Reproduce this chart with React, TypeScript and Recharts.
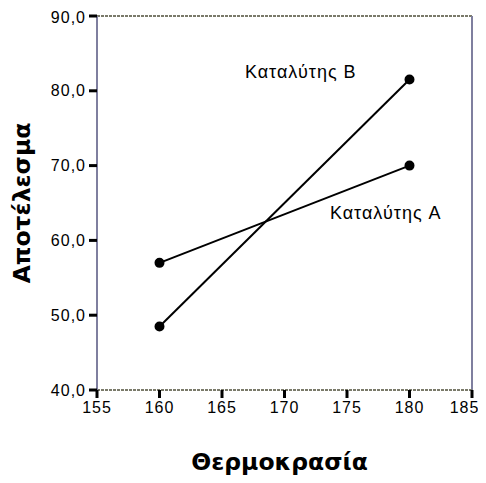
import React from "react";
import { LineChart, Line, XAxis, YAxis, ReferenceLine, ReferenceDot, Label } from "recharts";

const temperatures = [160, 180];
const catalystA = [57.0, 70.0];
const catalystB = [48.5, 81.5];
const xTicks = [155, 160, 165, 170, 175, 180, 185];
const yTicks = [40, 50, 60, 70, 80, 90];
const seriesNames = ["Καταλύτης A", "Καταλύτης B"];
const labelPositions = [
  { x: 178.1, y: 63.7 },
  { x: 171.3, y: 82.5 },
];

const data = temperatures.map((t, i) => ({ t, a: catalystA[i], b: catalystB[i] }));

const FONT = "'Liberation Sans', Arial, sans-serif";
const tickStyle = { fontSize: 16, fill: "#000", fontFamily: FONT, letterSpacing: 1 };
const titleStyle = { fontSize: 23.5, fontWeight: "bold", fill: "#000", fontFamily: "'DejaVu Sans', sans-serif" };

export default function App() {
  return (
    <div style={{ width: 470, height: 467 }}>
      <LineChart width={470} height={467} data={data} margin={{ top: 8, right: 6, left: 0, bottom: 0 }}>
        <XAxis
          dataKey="t"
          type="number"
          domain={[155, 185]}
          ticks={xTicks}
          height={85}
          stroke="#7a7a6a"
          axisLine={{ stroke: "#7a7a6a", strokeWidth: 2, strokeDasharray: "3 1" }}
          tickLine={{ stroke: "#000", strokeWidth: 3 }}
          tickSize={8}
          tickMargin={4}
          tick={tickStyle}
        >
          <Label value="Θερμοκρασία" position="insideBottom" offset={5} dx={-5} style={titleStyle} />
        </XAxis>
        <YAxis
          type="number"
          domain={[40, 90]}
          ticks={yTicks}
          width={89}
          axisLine={{ stroke: "#7f7f9f", strokeWidth: 2 }}
          tickLine={{ stroke: "#000", strokeWidth: 3 }}
          tickSize={8}
          tickMargin={3}
          tick={tickStyle}
          tickFormatter={(v: number) => v.toFixed(1).replace(".", ",")}
        >
          <Label
            value="Αποτέλεσμα"
            angle={-90}
            position="insideLeft"
            offset={0}
            style={{ ...titleStyle, textAnchor: "middle" }}
            dx={14}
          />
        </YAxis>
        <ReferenceLine y={90} stroke="#7a7a6a" strokeWidth={2} strokeDasharray="3 1" />
        <ReferenceLine x={185} stroke="#7f7f9f" strokeWidth={2} />
        <Line
          dataKey="a"
          stroke="#000"
          strokeWidth={2}
          dot={{ r: 4, fill: "#000", stroke: "#000" }}
          isAnimationActive={false}
        />
        <Line
          dataKey="b"
          stroke="#000"
          strokeWidth={2}
          dot={{ r: 4, fill: "#000", stroke: "#000" }}
          isAnimationActive={false}
        />
        {labelPositions.map((p, i) => (
          <ReferenceDot key={i} x={p.x} y={p.y} r={0} fill="none" stroke="none">
            <Label
              value={seriesNames[i]}
              position="center"
              style={{ fontSize: 18, fill: "#000", fontFamily: FONT, letterSpacing: 1 }}
            />
          </ReferenceDot>
        ))}
      </LineChart>
    </div>
  );
}
